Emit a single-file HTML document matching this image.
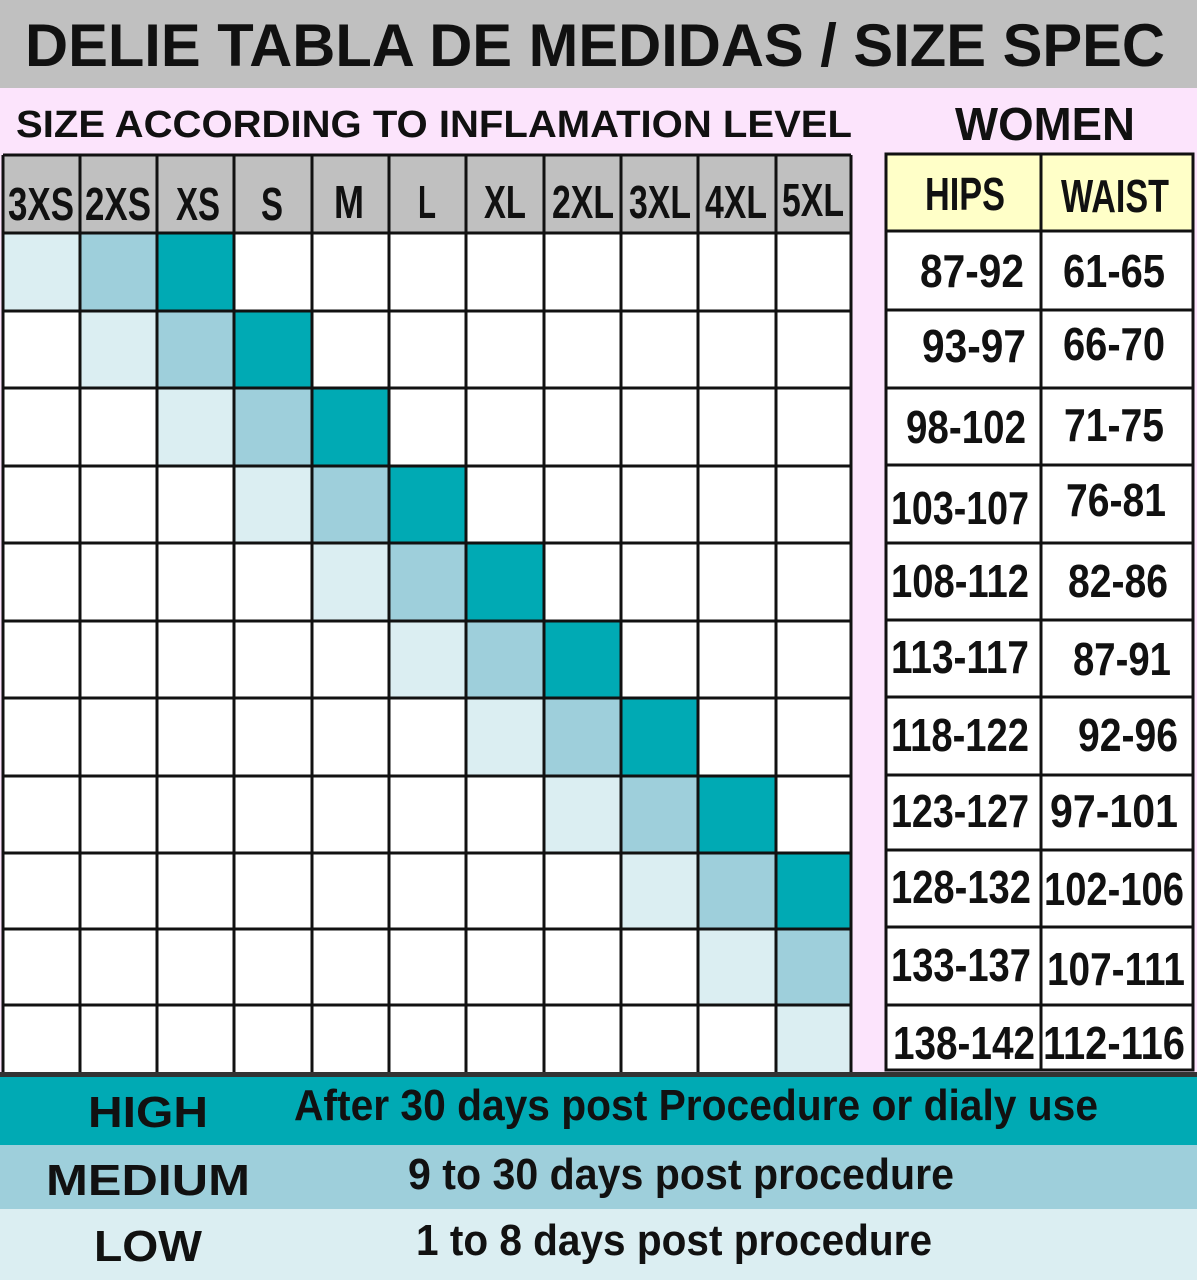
<!DOCTYPE html>
<html><head><meta charset="utf-8"><style>
html,body{margin:0;padding:0;width:1197px;height:1280px;overflow:hidden;background:#fce4fc}
svg{display:block}
text{font-family:"Liberation Sans",sans-serif;font-weight:bold;fill:#111}
</style></head><body>
<svg width="1197" height="1280" viewBox="0 0 1197 1280" xmlns="http://www.w3.org/2000/svg">
<rect x="0" y="0" width="1197" height="1280" fill="#fce4fc"/>
<rect x="0" y="0" width="1197" height="88" fill="#c0c0c0"/>
<text x="25" y="66" font-size="60" textLength="1140" lengthAdjust="spacingAndGlyphs">DELIE TABLA DE MEDIDAS / SIZE SPEC</text>
<text x="16" y="137" font-size="38" textLength="836" lengthAdjust="spacingAndGlyphs">SIZE ACCORDING TO INFLAMATION LEVEL</text>
<text x="955" y="140" font-size="46" textLength="180" lengthAdjust="spacingAndGlyphs">WOMEN</text>

<rect x="3" y="155" width="848" height="78" fill="#c0c0c0"/>
<rect x="3" y="233" width="848" height="840" fill="#fff"/>
<g id="cells"></g>
<g font-size="46" text-anchor="middle">
<text x="41" y="220" textLength="66" lengthAdjust="spacingAndGlyphs">3XS</text>
<text x="118" y="220" textLength="66" lengthAdjust="spacingAndGlyphs">2XS</text>
<text x="198" y="220" textLength="44" lengthAdjust="spacingAndGlyphs">XS</text>
<text x="272" y="220" textLength="22" lengthAdjust="spacingAndGlyphs">S</text>
<text x="349" y="218" textLength="30" lengthAdjust="spacingAndGlyphs">M</text>
<text x="427" y="218" textLength="18" lengthAdjust="spacingAndGlyphs">L</text>
<text x="505" y="218" textLength="42" lengthAdjust="spacingAndGlyphs">XL</text>
<text x="583" y="218" textLength="62" lengthAdjust="spacingAndGlyphs">2XL</text>
<text x="660" y="218" textLength="62" lengthAdjust="spacingAndGlyphs">3XL</text>
<text x="736" y="218" textLength="62" lengthAdjust="spacingAndGlyphs">4XL</text>
<text x="813" y="216" textLength="62" lengthAdjust="spacingAndGlyphs">5XL</text>
</g>

<rect x="886" y="154" width="307" height="916" fill="#fff"/>
<rect x="886" y="154" width="307" height="77" fill="#ffffc8"/>
<g font-size="46" text-anchor="middle">
<text x="965" y="210" textLength="80" lengthAdjust="spacingAndGlyphs">HIPS</text>
<text x="1115" y="212" textLength="108" lengthAdjust="spacingAndGlyphs">WAIST</text>
</g>
<g font-size="46" text-anchor="middle">
<text x="972" y="287" textLength="104" lengthAdjust="spacingAndGlyphs">87-92</text><text x="1114" y="287" textLength="102" lengthAdjust="spacingAndGlyphs">61-65</text>
<text x="974" y="362" textLength="104" lengthAdjust="spacingAndGlyphs">93-97</text><text x="1114" y="360" textLength="102" lengthAdjust="spacingAndGlyphs">66-70</text>
<text x="966" y="443" textLength="120" lengthAdjust="spacingAndGlyphs">98-102</text><text x="1114" y="441" textLength="100" lengthAdjust="spacingAndGlyphs">71-75</text>
<text x="960" y="524" textLength="138" lengthAdjust="spacingAndGlyphs">103-107</text><text x="1116" y="516" textLength="100" lengthAdjust="spacingAndGlyphs">76-81</text>
<text x="960" y="597" textLength="138" lengthAdjust="spacingAndGlyphs">108-112</text><text x="1118" y="597" textLength="100" lengthAdjust="spacingAndGlyphs">82-86</text>
<text x="960" y="673" textLength="138" lengthAdjust="spacingAndGlyphs">113-117</text><text x="1122" y="675" textLength="98" lengthAdjust="spacingAndGlyphs">87-91</text>
<text x="960" y="751" textLength="138" lengthAdjust="spacingAndGlyphs">118-122</text><text x="1128" y="751" textLength="100" lengthAdjust="spacingAndGlyphs">92-96</text>
<text x="960" y="827" textLength="138" lengthAdjust="spacingAndGlyphs">123-127</text><text x="1114" y="827" textLength="128" lengthAdjust="spacingAndGlyphs">97-101</text>
<text x="961" y="903" textLength="140" lengthAdjust="spacingAndGlyphs">128-132</text><text x="1114" y="905" textLength="140" lengthAdjust="spacingAndGlyphs">102-106</text>
<text x="961" y="981" textLength="140" lengthAdjust="spacingAndGlyphs">133-137</text><text x="1116" y="985" textLength="138" lengthAdjust="spacingAndGlyphs">107-111</text>
<text x="964" y="1059" textLength="142" lengthAdjust="spacingAndGlyphs">138-142</text><text x="1114" y="1059" textLength="142" lengthAdjust="spacingAndGlyphs">112-116</text>
</g>
<g stroke="#111" stroke-width="3" fill="none">
<rect x="886" y="154" width="307" height="916"/>
<line x1="1041" y1="154" x2="1041" y2="1070"/>
<path d="M886 231H1193M886 310H1193M886 388H1193M886 465H1193M886 543H1193M886 620H1193M886 697H1193M886 775H1193M886 850H1193M886 927H1193M886 1005H1193"/>
</g>

<rect x="0" y="1072" width="1197" height="5" fill="#333"/>
<rect x="0" y="1077" width="1197" height="68" fill="#00aab4"/>
<rect x="0" y="1145" width="1197" height="64" fill="#9ecfdb"/>
<rect x="0" y="1209" width="1197" height="71" fill="#dbeef2"/>
<g font-size="44">
<text x="88" y="1127" textLength="120" lengthAdjust="spacingAndGlyphs">HIGH</text>
<text x="294" y="1120" textLength="804" lengthAdjust="spacingAndGlyphs">After 30 days post Procedure or dialy use</text>
<text x="46" y="1195" textLength="204" lengthAdjust="spacingAndGlyphs">MEDIUM</text>
<text x="408" y="1189" textLength="546" lengthAdjust="spacingAndGlyphs">9 to 30 days post procedure</text>
<text x="94" y="1261" textLength="108" lengthAdjust="spacingAndGlyphs">LOW</text>
<text x="416" y="1255" textLength="516" lengthAdjust="spacingAndGlyphs">1 to 8 days post procedure</text>
</g>
</svg>
<script>
(function(){
var xs=[3,80,157,234,312,389,466,544,621,698,776,851];
var ys=[155,233,311,388,466,543,621,698,776,853,929,1005,1072];
var ns="http://www.w3.org/2000/svg",g=document.getElementById("cells");
function r(x,y,w,h,f){var e=document.createElementNS(ns,"rect");e.setAttribute("x",x);e.setAttribute("y",y);e.setAttribute("width",w);e.setAttribute("height",h);e.setAttribute("fill",f);g.appendChild(e);}
var cols=["#dbeef2","#9ecfdb","#00aab4"];
for(var row=0;row<11;row++){for(var k=0;k<3;k++){var c=row+k;if(c<11){r(xs[c],ys[row+1],xs[c+1]-xs[c],ys[row+2]-ys[row+1],cols[k]);}}}
var d="";
for(var i=0;i<xs.length;i++)d+="M"+xs[i]+" 155V1072";
for(var j=0;j<ys.length-1;j++)d+="M3 "+ys[j]+"H851";
var p=document.createElementNS(ns,"path");p.setAttribute("d",d);p.setAttribute("stroke","#111");p.setAttribute("stroke-width","3");p.setAttribute("fill","none");
g.parentNode.insertBefore(p,g.nextSibling);
})();
</script>
</body></html>
